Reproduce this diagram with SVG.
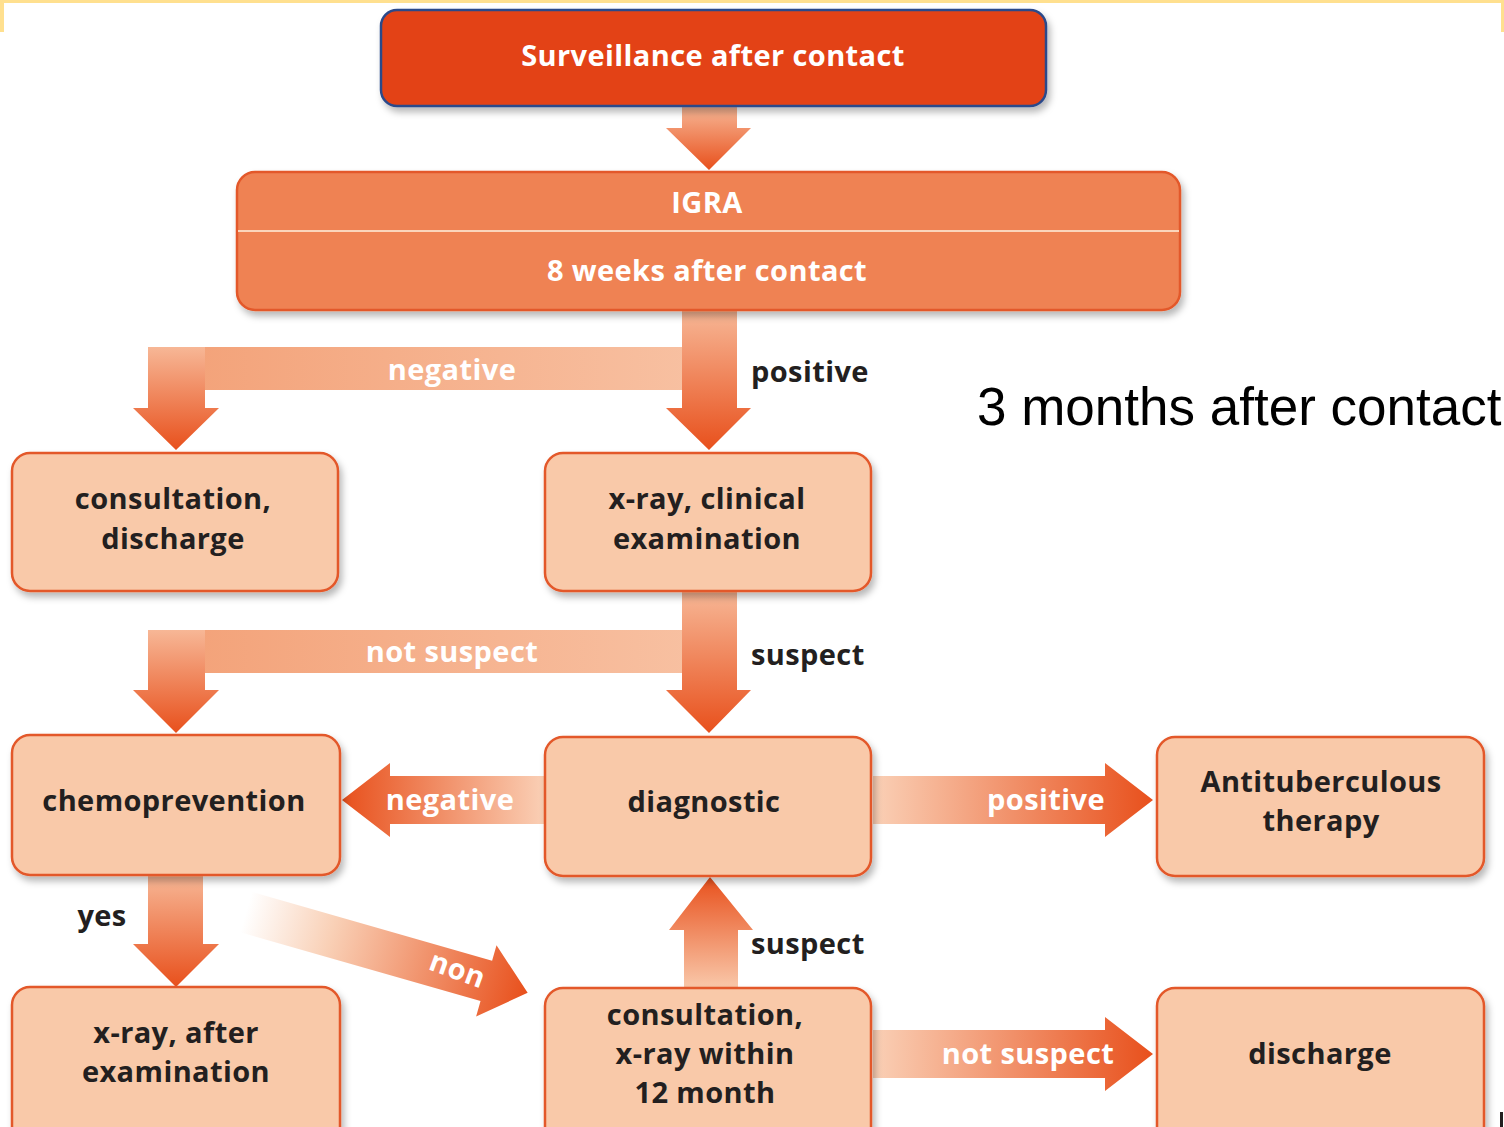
<svg xmlns="http://www.w3.org/2000/svg" width="1504" height="1127" viewBox="0 0 1504 1127">
<style>
.t{font-family:"Open Sans",Lato,"DejaVu Sans",sans-serif;font-weight:bold;font-size:29px;letter-spacing:0.4px;text-anchor:middle;dominant-baseline:central}
.w{fill:#ffffff}
.k{fill:#231f20}
.lbl{text-anchor:start}
.node{fill:#f9c9a9;stroke:#e3582a;stroke-width:2.5}
</style>
<defs>
<filter id="sh" x="-10%" y="-10%" width="125%" height="130%">
<feDropShadow dx="3" dy="5" stdDeviation="3.5" flood-color="#000" flood-opacity="0.28"/>
</filter>
<linearGradient id="gDown" x1="0" y1="0" x2="0" y2="1">
<stop offset="0" stop-color="#f7b796"/>
<stop offset="1" stop-color="#e8501c"/>
</linearGradient>
<linearGradient id="gUp" x1="0" y1="1" x2="0" y2="0">
<stop offset="0" stop-color="#f9c8aa"/>
<stop offset="1" stop-color="#e8501c"/>
</linearGradient>
<linearGradient id="gBar" x1="0" y1="0" x2="1" y2="0">
<stop offset="0" stop-color="#f3a076"/>
<stop offset="1" stop-color="#f8c3a5"/>
</linearGradient>
<linearGradient id="gLeft" x1="1" y1="0" x2="0" y2="0">
<stop offset="0" stop-color="#fad0b6"/>
<stop offset="1" stop-color="#e8501c"/>
</linearGradient>
<linearGradient id="gRight" x1="0" y1="0" x2="1" y2="0">
<stop offset="0" stop-color="#fad0b6"/>
<stop offset="1" stop-color="#e8501c"/>
</linearGradient>
<linearGradient id="gNon" gradientUnits="userSpaceOnUse" x1="0" y1="0" x2="293" y2="0">
<stop offset="0" stop-color="#ffffff"/>
<stop offset="0.3" stop-color="#f9d0b6"/>
<stop offset="1" stop-color="#e8501c"/>
</linearGradient>
</defs>

<g id="frame" fill="#ffe08f">
<rect x="0" y="0" width="1504" height="3"/>
<rect x="0" y="0" width="4" height="32"/>
<rect x="1501" y="0" width="3" height="32"/>
</g>
<rect x="1500" y="1112" width="3" height="15" fill="#231f20"/>

<g id="connectors">
<path d="M682,106 H737 V128 H751 L709,170 L666,128 H682 Z" fill="url(#gDown)"/>
<rect x="148" y="347" width="589" height="43" fill="url(#gBar)"/>
<path d="M148,347 H205 V408 H219 L176,450 L133,408 H148 Z" fill="url(#gDown)"/>
<path d="M682,310 H737 V408 H751 L709,450 L666,408 H682 Z" fill="url(#gDown)"/>
<rect x="148" y="630" width="589" height="43" fill="url(#gBar)"/>
<path d="M148,630 H205 V690 H219 L176,733 L133,690 H148 Z" fill="url(#gDown)"/>
<path d="M682,591 H737 V690 H751 L709,733 L666,690 H682 Z" fill="url(#gDown)"/>
<path d="M545,776 H390 V763 L342,800 L390,837 V824 H545 Z" fill="url(#gLeft)"/>
<path d="M873,776 H1105 V763 L1153,800 L1105,837 V824 H873 Z" fill="url(#gRight)"/>
<path d="M148,875 H203 V944 H219 L176,987 L133,944 H148 Z" fill="url(#gDown)"/>
<path d="M684,988 V930 H669 L710,877 L753,930 H738 V988 Z" fill="url(#gUp)"/>
<path d="M873,1030 H1105 V1017 L1153,1054 L1105,1091 V1078 H873 Z" fill="url(#gRight)"/>
<g transform="translate(246,912) rotate(16)">
<path d="M0,-21 H250 V-37 L293,0 L250,37 V21 H0 Z" fill="url(#gNon)"/>
</g>
<text class="t w" x="452" y="368">negative</text>
<text class="t k lbl" x="751" y="370">positive</text>
<text class="t w" x="452" y="650">not suspect</text>
<text class="t k lbl" x="751" y="653">suspect</text>
<text class="t w" x="450" y="798">negative</text>
<text class="t w" x="1046" y="798">positive</text>
<text class="t k" x="102" y="914">yes</text>
<text class="t w" transform="translate(458,968) rotate(20)" x="0" y="0">non</text>
<text class="t k lbl" x="751" y="942">suspect</text>
<text class="t w" x="1028" y="1052">not suspect</text>
</g>

<g id="n-surveillance">
<rect x="381" y="10" width="665" height="96" rx="16" fill="#e34316" stroke="#2b4a8a" stroke-width="2.5" filter="url(#sh)"/>
<text class="t w" x="713" y="54">Surveillance after contact</text>
</g>
<g id="n-igra">
<rect x="237" y="172" width="943" height="138" rx="18" fill="#ef8253" stroke="#e3582a" stroke-width="2.5" filter="url(#sh)"/>
<line x1="238" y1="231" x2="1179" y2="231" stroke="#fbd5bb" stroke-width="2"/>
<text class="t w" x="707" y="201">IGRA</text>
<text class="t w" x="707" y="269">8 weeks after contact</text>
</g>
<g id="n-consult1">
<rect class="node" x="12" y="453" width="326" height="138" rx="18" filter="url(#sh)"/>
<text class="t k" x="173" y="497">consultation,</text>
<text class="t k" x="173" y="537">discharge</text>
</g>
<g id="n-xray1">
<rect class="node" x="545" y="453" width="326" height="138" rx="18" filter="url(#sh)"/>
<text class="t k" x="707" y="497">x-ray, clinical</text>
<text class="t k" x="707" y="537">examination</text>
</g>
<g id="n-chemo">
<rect class="node" x="12" y="735" width="328" height="140" rx="18" filter="url(#sh)"/>
<text class="t k" x="174" y="799">chemoprevention</text>
</g>
<g id="n-diag">
<rect class="node" x="545" y="737" width="326" height="139" rx="18" filter="url(#sh)"/>
<text class="t k" x="704" y="800">diagnostic</text>
</g>
<g id="n-anti">
<rect class="node" x="1157" y="737" width="327" height="139" rx="18" filter="url(#sh)"/>
<text class="t k" x="1321" y="780">Antituberculous</text>
<text class="t k" x="1321" y="819">therapy</text>
</g>
<g id="n-xray2">
<rect class="node" x="12" y="987" width="328" height="160" rx="18" filter="url(#sh)"/>
<text class="t k" x="176" y="1031">x-ray, after</text>
<text class="t k" x="176" y="1070">examination</text>
</g>
<g id="n-consult2">
<rect class="node" x="545" y="988" width="326" height="160" rx="18" filter="url(#sh)"/>
<text class="t k" x="705" y="1013">consultation,</text>
<text class="t k" x="705" y="1052">x-ray within</text>
<text class="t k" x="705" y="1091">12 month</text>
</g>
<g id="n-discharge">
<rect class="node" x="1157" y="988" width="327" height="160" rx="18" filter="url(#sh)"/>
<text class="t k" x="1320" y="1052">discharge</text>
</g>

<text x="977" y="425" font-family="'Liberation Sans',Arial,sans-serif" font-size="53" fill="#000">3 months after contact</text>
</svg>
